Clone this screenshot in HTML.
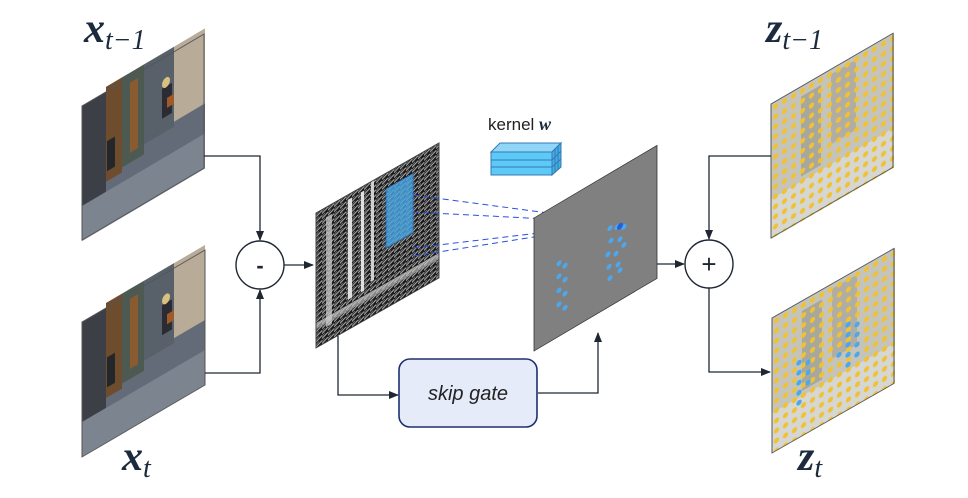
<!DOCTYPE html>
<html><head><meta charset="utf-8"><style>
html,body{margin:0;padding:0;background:#fff}
svg{display:block}
.m{font-family:"Liberation Serif",serif;font-style:italic;font-weight:bold;fill:#1c2a3e}
</style></head><body>
<svg width="968" height="498" viewBox="0 0 968 498" xmlns="http://www.w3.org/2000/svg">
<defs>
<marker id="ar" markerWidth="10" markerHeight="10" refX="9" refY="5" orient="auto" markerUnits="userSpaceOnUse">
<path d="M0,1 L10,5 L0,9 z" fill="#1f2733"/></marker>
<pattern id="yd" width="9" height="10" patternUnits="userSpaceOnUse"><circle cx="4.5" cy="5" r="2.6" fill="#f0c232"/></pattern>
<pattern id="wn" width="6" height="5" patternUnits="userSpaceOnUse"><path d="M0,4 L6,1" stroke="#e8e8e8" stroke-width="1.3"/><path d="M0,2 L3,0" stroke="#bbb" stroke-width="0.8"/></pattern>
<g id="street">
<rect width="123" height="135" fill="#646b78"/>
<rect x="0" y="0" width="24" height="100" fill="#3c4046"/>
<rect x="24" y="-5" width="16" height="95" fill="#6e4c2e"/>
<rect x="40" y="-5" width="22" height="90" fill="#4d5a52"/>
<rect x="48" y="5" width="8" height="70" fill="#8a5a30"/>
<rect x="62" y="-5" width="30" height="80" fill="#58606a"/>
<rect x="92" y="-5" width="31" height="75" fill="#b8ab98"/>
<rect x="0" y="100" width="123" height="35" fill="#7c8490"/>
<rect x="80" y="30" width="10" height="30" fill="#2b2b33"/>
<ellipse cx="84" cy="26" rx="4" ry="5" fill="#d8c080"/>
<rect x="85" y="42" width="7" height="10" fill="#a05a2a"/>
<rect x="25" y="50" width="8" height="30" fill="#23262b"/>
</g>
<g id="zbg">
<rect width="123" height="135" fill="#c4c4bc"/>
<rect x="30" y="10" width="20" height="80" fill="#8c8a80" opacity=".5"/>
<rect x="60" y="5" width="25" height="70" fill="#9a9488" opacity=".45"/>
<rect x="0" y="95" width="123" height="40" fill="#d6d6d2"/>
<rect width="123" height="135" fill="url(#yd)"/>
</g>
</defs>

<g transform="matrix(1,-0.59,0,1,82,106)"><use href="#street"/><rect width="122" height="134" fill="none" stroke="#555" stroke-width="1"/></g>
<g transform="matrix(1,-0.585,0,1,82,322)"><use href="#street"/><rect width="123" height="135" fill="none" stroke="#555" stroke-width="1"/></g>

<g transform="matrix(1,-0.57,0,1,316,213)">
<rect width="123" height="135" fill="#1a1a1a"/>
<rect width="123" height="135" fill="url(#wn)" opacity=".7"/>
<rect x="10" y="10" width="6" height="110" fill="#cfcfcf" opacity=".7"/>
<rect x="32" y="5" width="4" height="100" fill="#e0e0e0"/>
<rect x="45" y="5" width="3" height="100" fill="#e0e0e0"/>
<rect x="55" y="0" width="3" height="100" fill="#d0d0d0"/>
<rect x="0" y="110" width="123" height="6" fill="#d0d0d0" opacity=".6"/>
<rect x="70" y="16" width="27" height="59" fill="#4aa8e6" opacity=".8" stroke="#2a7ad0" stroke-width="1"/>
<rect width="123" height="135" fill="none" stroke="#444"/>
</g>

<g stroke="#2850e0" stroke-width="1" stroke-dasharray="6,4" fill="none">
<line x1="413" y1="195" x2="623" y2="223"/>
<line x1="413" y1="212" x2="623" y2="223"/>
<line x1="413" y1="248" x2="623" y2="223"/>
<line x1="413" y1="256" x2="623" y2="223"/>
</g>

<g transform="matrix(1,-0.59,0,1,534,218)">
<rect width="123" height="133" fill="#808080" stroke="#333" stroke-width="0.8"/>
<g fill="#4aa8f0">
<circle cx="25" cy="60" r="2.5"/><circle cx="31" cy="66" r="2.5"/><circle cx="25" cy="73" r="2.5"/><circle cx="31" cy="80" r="2.5"/><circle cx="25" cy="87" r="2.5"/><circle cx="31" cy="94" r="2.5"/><circle cx="25" cy="101" r="2.5"/><circle cx="31" cy="108" r="2.5"/>
<circle cx="76" cy="55" r="2.5"/><circle cx="83" cy="58" r="2.5"/><circle cx="90" cy="62" r="2.5"/><circle cx="77" cy="68" r="2.5"/><circle cx="86" cy="72" r="2.5"/><circle cx="74" cy="80" r="2.5"/><circle cx="82" cy="84" r="2.5"/><circle cx="90" cy="80" r="2.5"/><circle cx="75" cy="93" r="2.5"/><circle cx="84" cy="96" r="2.5"/><circle cx="76" cy="105" r="2.5"/><circle cx="86" cy="103" r="2.5"/>
</g>
<circle cx="86" cy="59" r="3" fill="#2060e0"/>
</g>

<g stroke="#3a78b0" stroke-width="1">
<polygon points="491,152 500,143 561,143 552,152" fill="#8fd6f8"/>
<polygon points="552,152 561,143 561,167 552,175" fill="#3fb0e8"/>
<rect x="491" y="152" width="61" height="23" fill="#5ccaf8"/>
<line x1="491" y1="160" x2="552" y2="160"/><line x1="491" y1="167" x2="552" y2="167"/>
<line x1="552" y1="160" x2="561" y2="151"/><line x1="552" y1="167" x2="561" y2="159"/>
<line x1="555" y1="149" x2="555" y2="172"/><line x1="558" y1="146" x2="558" y2="170"/>
</g>
<text x="488" y="130" font-family="Liberation Sans,sans-serif" font-size="17" fill="#222">kernel <tspan class="m" font-size="18">w</tspan></text>

<g transform="matrix(1,-0.58,0,1,771,104)"><use href="#zbg"/><rect width="122" height="134" fill="none" stroke="#555"/></g>
<g transform="matrix(1,-0.57,0,1,772,318)"><use href="#zbg"/>
<g fill="#4aa8f0"><circle cx="27" cy="60" r="2.6"/><circle cx="27" cy="70" r="2.6"/><circle cx="36" cy="65" r="2.6"/><circle cx="27" cy="80" r="2.6"/><circle cx="36" cy="75" r="2.6"/><circle cx="27" cy="90" r="2.6"/><circle cx="36" cy="85" r="2.6"/><circle cx="27" cy="100" r="2.6"/>
<circle cx="76" cy="50" r="2.6"/><circle cx="85" cy="55" r="2.6"/><circle cx="76" cy="60" r="2.6"/><circle cx="85" cy="65" r="2.6"/><circle cx="76" cy="70" r="2.6"/><circle cx="85" cy="75" r="2.6"/><circle cx="76" cy="80" r="2.6"/><circle cx="67" cy="75" r="2.6"/><circle cx="85" cy="85" r="2.6"/><circle cx="76" cy="90" r="2.6"/></g>
<rect width="122" height="135" fill="none" stroke="#555"/></g>

<g stroke="#1f2733" stroke-width="1.3" fill="none">
<polyline points="204,156 260,156 260,240" marker-end="url(#ar)"/>
<polyline points="205,373 260,373 260,290" marker-end="url(#ar)"/>
<line x1="284" y1="265" x2="313" y2="265" marker-end="url(#ar)"/>
<polyline points="338,336 338,395 398,395" marker-end="url(#ar)"/>
<polyline points="538,393 598,393 598,333" marker-end="url(#ar)"/>
<line x1="657" y1="264" x2="684" y2="264" marker-end="url(#ar)"/>
<polyline points="771,156 709,156 709,239" marker-end="url(#ar)"/>
<polyline points="709,288 709,372 770,372" marker-end="url(#ar)"/>
</g>
<circle cx="260" cy="265" r="24" fill="#fff" stroke="#1f2733" stroke-width="1.4"/>
<text x="260" y="273" text-anchor="middle" font-family="Liberation Sans,sans-serif" font-size="22" font-weight="bold" fill="#1f2733">-</text>
<circle cx="709" cy="264" r="24" fill="#fff" stroke="#1f2733" stroke-width="1.4"/>
<text x="709" y="273" text-anchor="middle" font-family="Liberation Sans,sans-serif" font-size="26" fill="#1f2733">+</text>

<rect x="399" y="359" width="138" height="68" rx="11" fill="#e6ebfa" stroke="#1e2e6e" stroke-width="1.6"/>
<text x="468" y="400" text-anchor="middle" font-family="Liberation Sans,sans-serif" font-style="italic" font-size="20" fill="#222">skip gate</text>

<text class="m" x="84" y="42" font-size="42">x<tspan font-size="28" dy="7" font-weight="normal">t−1</tspan></text>
<text class="m" x="122" y="470" font-size="42">x<tspan font-size="28" dy="7" font-weight="normal">t</tspan></text>
<text class="m" x="766" y="42" font-size="42">z<tspan font-size="28" dy="7" font-weight="normal">t−1</tspan></text>
<text class="m" x="798" y="470" font-size="42">z<tspan font-size="28" dy="7" font-weight="normal">t</tspan></text>
</svg>
</body></html>
